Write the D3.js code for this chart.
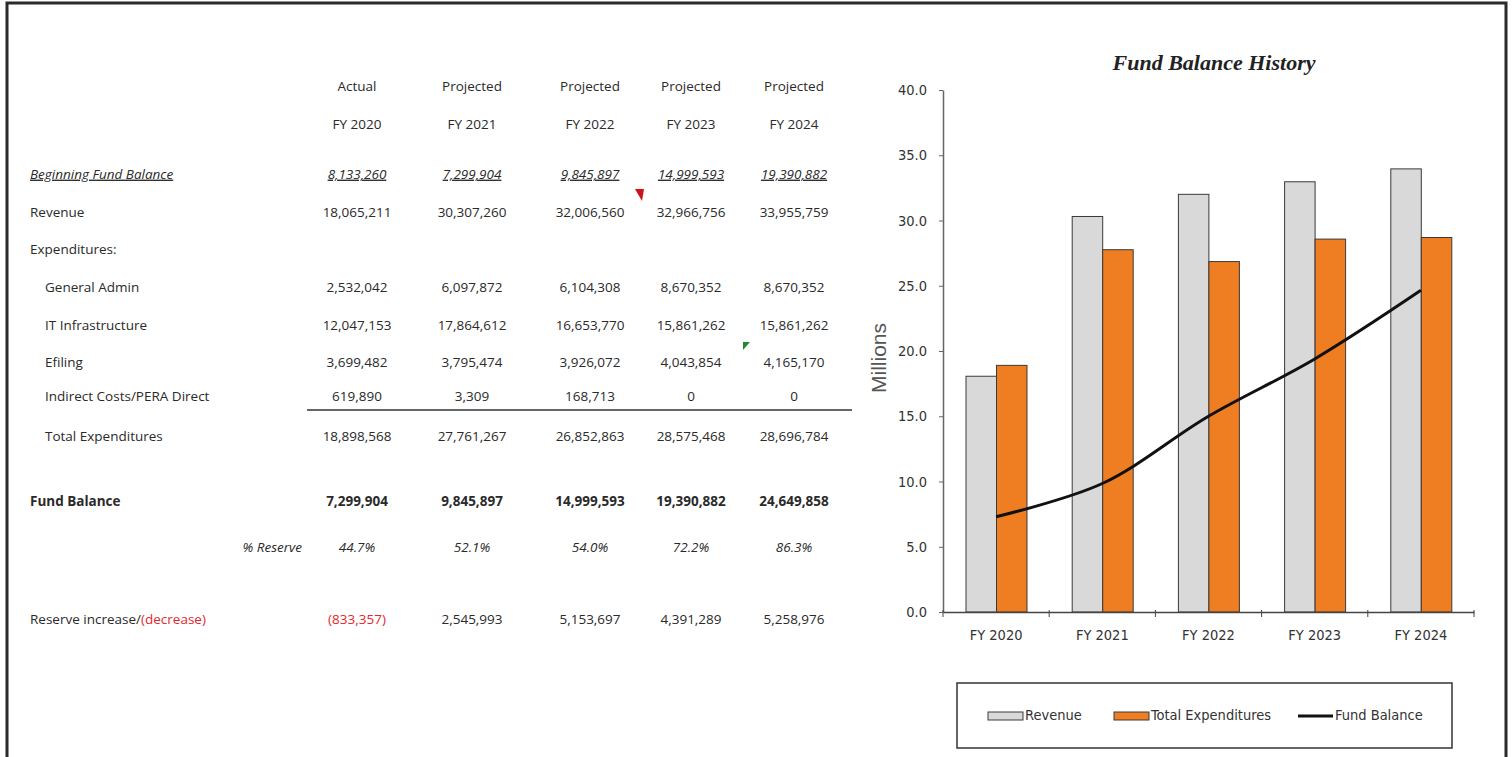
<!DOCTYPE html>
<html>
<head>
<meta charset="utf-8">
<script src="https://cdn.jsdelivr.net/npm/d3@7"></script>
<style>
  body { margin: 0; background: #fff; }
  svg { display: block; }
  .tbl { font-family: "Open Sans", sans-serif; font-size: 13.5px; fill: #2a2a2a; }
</style>
</head>
<body>
<div id="chart"></div>
<script>
// column heads
var colStatus = ["Actual", "Projected", "Projected", "Projected", "Projected"];
var years = ["FY 2020", "FY 2021", "FY 2022", "FY 2023", "FY 2024"];

// table values
var beginningBalance = [8133260, 7299904, 9845897, 14999593, 19390882];
var revenue = [18065211, 30307260, 32006560, 32966756, 33955759];
var generalAdmin = [2532042, 6097872, 6104308, 8670352, 8670352];
var itInfrastructure = [12047153, 17864612, 16653770, 15861262, 15861262];
var efiling = [3699482, 3795474, 3926072, 4043854, 4165170];
var indirectCosts = [619890, 3309, 168713, 0, 0];
var totalExpenditures = [18898568, 27761267, 26852863, 28575468, 28696784];
var fundBalance = [7299904, 9845897, 14999593, 19390882, 24649858];
var pctReserve = [44.7, 52.1, 54.0, 72.2, 86.3];
var reserveChange = [-833357, 2545993, 5153697, 4391289, 5258976];

var yTicks = [0, 5, 10, 15, 20, 25, 30, 35, 40];

var svgWidth = 1512;
var svgHeight = 757;
var narrowFont = "Liberation Sans Narrow, DejaVu Sans Condensed, sans-serif";

var svg = d3.select("#chart")
  .append("svg")
  .attr("width", svgWidth)
  .attr("height", svgHeight);

// frame round the picture
svg.append("path")
  .attr("d", "M7,757V3H1506V757")
  .attr("fill", "none")
  .attr("stroke", "#2a2a2a")
  .attr("stroke-width", 3);

///////////////////////////
// Table

var fmt = d3.format(",");
function money(v) {
  return v < 0 ? "(" + fmt(-v) + ")" : fmt(v);
}

var col = d3.scaleOrdinal()
  .domain(years)
  .range([357, 472, 590, 691, 794]);

var tbl = svg.append("g").attr("class", "tbl");

tbl.selectAll(null)
  .data(colStatus)
  .enter()
  .append("text")
  .attr("x", (d, i) => col(years[i]))
  .attr("y", 87)
  .attr("text-anchor", "middle")
  .attr("dominant-baseline", "middle")
  .text(d => d);

tbl.selectAll(null)
  .data(years)
  .enter()
  .append("text")
  .attr("x", d => col(d))
  .attr("y", 125)
  .attr("text-anchor", "middle")
  .attr("dominant-baseline", "middle")
  .text(d => d);

var rows = [
  { label: "Beginning Fund Balance", values: beginningBalance, y: 175, lx: 30, style: "italic", under: true },
  { label: "Revenue", values: revenue, y: 213, lx: 30 },
  { label: "Expenditures:", values: null, y: 250, lx: 30 },
  { label: "General Admin", values: generalAdmin, y: 288, lx: 45 },
  { label: "IT Infrastructure", values: itInfrastructure, y: 326, lx: 45 },
  { label: "Efiling", values: efiling, y: 363, lx: 45 },
  { label: "Indirect Costs/PERA Direct", values: indirectCosts, y: 397, lx: 45 },
  { label: "Total Expenditures", values: totalExpenditures, y: 437, lx: 45 },
  { label: "Fund Balance", values: fundBalance, y: 502, lx: 30, bold: true }
];

rows.forEach(function(r) {
  var lab = tbl.append("text")
    .attr("x", r.lx)
    .attr("y", r.y)
    .attr("dominant-baseline", "middle")
    .text(r.label);
  if (r.style) lab.attr("font-style", r.style);
  if (r.under) lab.attr("text-decoration", "underline");
  if (r.bold) lab.attr("font-weight", "bold");

  if (!r.values) return;
  var cells = tbl.selectAll(null)
    .data(r.values)
    .enter()
    .append("text")
    .attr("x", (d, i) => col(years[i]))
    .attr("y", r.y)
    .attr("text-anchor", "middle")
    .attr("dominant-baseline", "middle")
    .text(d => money(d));
  if (r.style) cells.attr("font-style", r.style);
  if (r.under) cells.attr("text-decoration", "underline");
  if (r.bold) cells.attr("font-weight", "bold");
});

// rule under the last expense line
tbl.append("line")
  .attr("x1", 307).attr("x2", 852)
  .attr("y1", 410).attr("y2", 410)
  .attr("stroke", "#333")
  .attr("stroke-width", 1.5);

// % reserve row
tbl.append("text")
  .attr("x", 302)
  .attr("y", 548)
  .attr("text-anchor", "end")
  .attr("dominant-baseline", "middle")
  .attr("font-style", "italic")
  .text("% Reserve");

tbl.selectAll(null)
  .data(pctReserve)
  .enter()
  .append("text")
  .attr("x", (d, i) => col(years[i]))
  .attr("y", 548)
  .attr("text-anchor", "middle")
  .attr("dominant-baseline", "middle")
  .attr("font-style", "italic")
  .text(d => d.toFixed(1) + "%");

// reserve increase / (decrease)
var rl = tbl.append("text")
  .attr("x", 30)
  .attr("y", 620)
  .attr("dominant-baseline", "middle");
rl.append("tspan").text("Reserve increase/");
rl.append("tspan").attr("fill", "#e8262b").text("(decrease)");

tbl.selectAll(null)
  .data(reserveChange)
  .enter()
  .append("text")
  .attr("x", (d, i) => col(years[i]))
  .attr("y", 620)
  .attr("text-anchor", "middle")
  .attr("dominant-baseline", "middle")
  .attr("fill", d => d < 0 ? "#e8262b" : "#2a2a2a")
  .text(d => money(d));

// cell markers left over from the spreadsheet
svg.append("path").attr("d", "M635,189H644L642,201Z").attr("fill", "#d0101a");
svg.append("path").attr("d", "M743,342H750L743,350Z").attr("fill", "#1f8a2a");

///////////////////////////
// Chart

var x0 = d3.scaleBand()
  .domain(years)
  .range([943, 1474]);

var x1 = d3.scaleBand()
  .domain(["revenue", "expenditures"])
  .range([23, 84]);

var y = d3.scaleLinear()
  .domain([0, 40])
  .range([612, 90]);

var chart = svg.append("g");

// title
chart.append("text")
  .attr("x", 1214)
  .attr("y", 70)
  .attr("text-anchor", "middle")
  .attr("font-family", "Liberation Serif, serif")
  .attr("font-style", "italic")
  .attr("font-weight", "bold")
  .attr("font-size", 22)
  .attr("fill", "#222")
  .text("Fund Balance History");

// y axis
var leftAxis = d3.axisLeft(y)
  .tickValues(yTicks)
  .tickFormat(d3.format(".1f"))
  .tickSizeInner(4)
  .tickSizeOuter(0)
  .tickPadding(12);

var yAxis = chart.append("g")
  .attr("transform", "translate(943,0)")
  .call(leftAxis);
yAxis.select(".domain").attr("stroke", "#666").attr("stroke-width", 1.5);
yAxis.selectAll(".tick line").attr("stroke", "#666");
yAxis.selectAll("text").attr("font-size", 14.5).attr("fill", "#333")
  .attr("font-family", narrowFont);

// Millions label
chart.append("text")
  .attr("transform", "translate(886,358) rotate(-90)")
  .attr("text-anchor", "middle")
  .attr("font-family", "Liberation Sans, Arial, sans-serif")
  .attr("font-size", 21)
  .attr("fill", "#555")
  .text("Millions");

// bars
var series = [
  { key: "revenue", values: revenue, fill: "#d9d9d9" },
  { key: "expenditures", values: totalExpenditures, fill: "#ef7d22" }
];

series.forEach(function(s) {
  chart.selectAll(null)
    .data(s.values)
    .enter()
    .append("rect")
    .attr("x", (d, i) => x0(years[i]) + x1(s.key))
    .attr("y", d => y(d / 1e6))
    .attr("width", x1.bandwidth())
    .attr("height", d => y(0) - y(d / 1e6))
    .attr("fill", s.fill)
    .attr("stroke", "#3a3a3a")
    .attr("stroke-width", 1);
});

// x axis
var bottomAxis = d3.axisBottom(x0)
  .tickSize(0)
  .tickPadding(18);

var xAxis = chart.append("g")
  .attr("transform", "translate(0,612)")
  .call(bottomAxis);
xAxis.select(".domain").attr("stroke", "#444").attr("stroke-width", 1.5);
xAxis.selectAll("text").attr("font-size", 14.5).attr("fill", "#333")
  .attr("font-family", narrowFont);

// ticks at the band edges
var edges = years.map(d => x0(d)).concat([x0.range()[1]]);
chart.selectAll(null)
  .data(edges)
  .enter()
  .append("line")
  .attr("x1", d => d).attr("x2", d => d)
  .attr("y1", 610).attr("y2", 617)
  .attr("stroke", "#444");

// fund balance line
var line = d3.line()
  .x((d, i) => x0(years[i]) + x0.bandwidth() / 2)
  .y(d => y(d / 1e6))
  .curve(d3.curveCatmullRom.alpha(0.5));

chart.append("path")
  .datum(fundBalance)
  .attr("d", line)
  .attr("fill", "none")
  .attr("stroke", "#111")
  .attr("stroke-width", 3);

// legend
var legend = chart.append("g")
  .attr("font-family", narrowFont)
  .attr("font-size", 14.5)
  .attr("fill", "#333");

legend.append("rect")
  .attr("x", 957).attr("y", 683)
  .attr("width", 495).attr("height", 65)
  .attr("fill", "#fff")
  .attr("stroke", "#333")
  .attr("stroke-width", 1.5);

var legendItems = [
  { label: "Revenue", x: 988, fill: "#d9d9d9", type: "bar" },
  { label: "Total Expenditures", x: 1114, fill: "#ef7d22", type: "bar" },
  { label: "Fund Balance", x: 1298, fill: "#111", type: "line" }
];

legendItems.forEach(function(it) {
  if (it.type === "bar") {
    legend.append("rect")
      .attr("x", it.x).attr("y", 712)
      .attr("width", 35).attr("height", 8)
      .attr("fill", it.fill)
      .attr("stroke", "#3a3a3a");
  } else {
    legend.append("line")
      .attr("x1", it.x).attr("x2", it.x + 35)
      .attr("y1", 716).attr("y2", 716)
      .attr("stroke", it.fill)
      .attr("stroke-width", 3);
  }
  legend.append("text")
    .attr("x", it.x + 37)
    .attr("y", 716)
    .attr("dominant-baseline", "middle")
    .text(it.label);
});
</script>
</body>
</html>
